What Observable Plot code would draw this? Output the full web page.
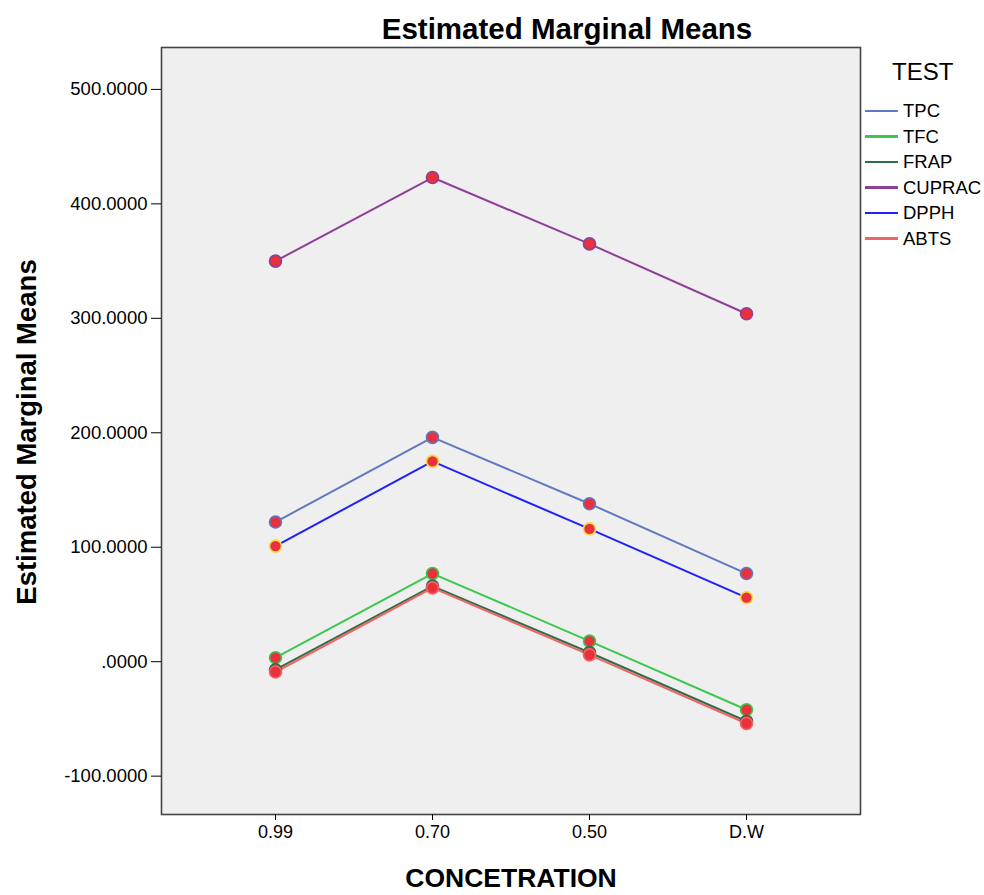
<!DOCTYPE html>
<html>
<head>
<meta charset="utf-8">
<script src="https://cdn.jsdelivr.net/npm/d3@7"></script>
<script src="https://cdn.jsdelivr.net/npm/@observablehq/plot@0.6"></script>
<style>
  html, body { margin: 0; padding: 0; background: #fff; }
  #wrap { position: relative; width: 984px; height: 895px; font-family: "Liberation Sans", Arial, sans-serif; }
  #chart { position: absolute; left: 0; top: 0; }
  .title { position: absolute; left: 0; width: 1134px; top: 12px; text-align: center; font-weight: bold; font-size: 29.5px; line-height: 34px; color: #000; }
  .ylab { position: absolute; left: 27px; top: 432px; transform: translate(-50%, -50%) rotate(-90deg); white-space: nowrap; font-weight: bold; font-size: 27.5px; color: #000; }
  .xlab { position: absolute; left: 0; width: 1022px; top: 864px; text-align: center; font-weight: bold; font-size: 26.5px; line-height: 28px; color: #000; }
  .legtitle { position: absolute; left: 892px; top: 58px; font-size: 24px; line-height: 28px; color: #000; }
  .legitem { position: absolute; left: 865px; font-size: 18.5px; line-height: 22px; color: #000; display: flex; align-items: center; }
  .legitem span.sw { display: inline-block; width: 33px; height: 2.5px; margin-right: 5px; }
</style>
</head>
<body>
<div id="wrap">
  <div id="chart"></div>
  <div class="title">Estimated Marginal Means</div>
  <div class="ylab">Estimated Marginal Means</div>
  <div class="xlab">CONCETRATION</div>
  <div class="legtitle">TEST</div>
  <div id="legend"></div>
</div>
<script>
const categories = ["0.99", "0.70", "0.50", "D.W"];
const seriesNames = ["TPC", "TFC", "FRAP", "CUPRAC", "DPPH", "ABTS"];
const seriesColors = ["#6078c2", "#3cc84e", "#2f6e4c", "#8e3f98", "#2020ff", "#f26464"];
const markerStrokes = ["#6078c2", "#3cc84e", "#2f6e4c", "#8e3f98", "#f5dc46", "#f26464"];
const TPC    = [122, 196, 138, 77];
const TFC    = [3.5, 77, 18, -42];
const FRAP   = [-7, 66, 8, -52];
const CUPRAC = [350, 423, 365, 304];
const DPPH   = [101, 175, 116, 56];
const ABTS   = [-9, 64.5, 6, -54];
const yTicks = [-100, 0, 100, 200, 300, 400, 500];

const valuesBySeries = [TPC, TFC, FRAP, CUPRAC, DPPH, ABTS];
const data = [];
seriesNames.forEach((s, i) => {
  categories.forEach((c, j) => data.push({series: s, cat: c, value: valuesBySeries[i][j]}));
});

const fmt = v => {
  let s = d3.format(".4f")(v).replace("−", "-");
  if (s.startsWith("0.")) s = s.slice(1);
  return s;
};

const marks = [
  Plot.frame({fill: "#efefef"}),
];
seriesNames.forEach((s, i) => {
  marks.push(Plot.line(data.filter(d => d.series === s), {x: "cat", y: "value", stroke: seriesColors[i], strokeWidth: 2}));
});
seriesNames.forEach((s, i) => {
  marks.push(Plot.dot(data.filter(d => d.series === s), {x: "cat", y: "value", r: 6, fill: "#e8313c", stroke: markerStrokes[i], strokeWidth: 1.6}));
});
marks.push(Plot.frame({stroke: "#444", strokeWidth: 1.6}));
marks.push(Plot.axisY({ticks: yTicks, tickSize: 10, tickPadding: 4, tickFormat: fmt, label: null, fontSize: 18.5}));
marks.push(Plot.axisX({tickSize: 6, tickPadding: 5, label: null, fontSize: 18}));

const chart = Plot.plot({
  width: 984,
  height: 895,
  marginLeft: 161,
  marginRight: 124,
  marginTop: 47,
  marginBottom: 81,
  style: {fontFamily: "'Liberation Sans', Arial, sans-serif", fontSize: "18px", color: "#000", background: "transparent"},
  x: {type: "point", domain: categories, padding: 0.726},
  y: {domain: [-133.5, 536.6]},
  marks
});
document.getElementById("chart").appendChild(chart);

const leg = document.getElementById("legend");
seriesNames.forEach((s, i) => {
  const d = document.createElement("div");
  d.className = "legitem";
  d.style.top = (100 + i * 25.5) + "px";
  d.innerHTML = `<span class="sw" style="background:${seriesColors[i]}"></span>${s}`;
  leg.appendChild(d);
});
</script>
</body>
</html>
